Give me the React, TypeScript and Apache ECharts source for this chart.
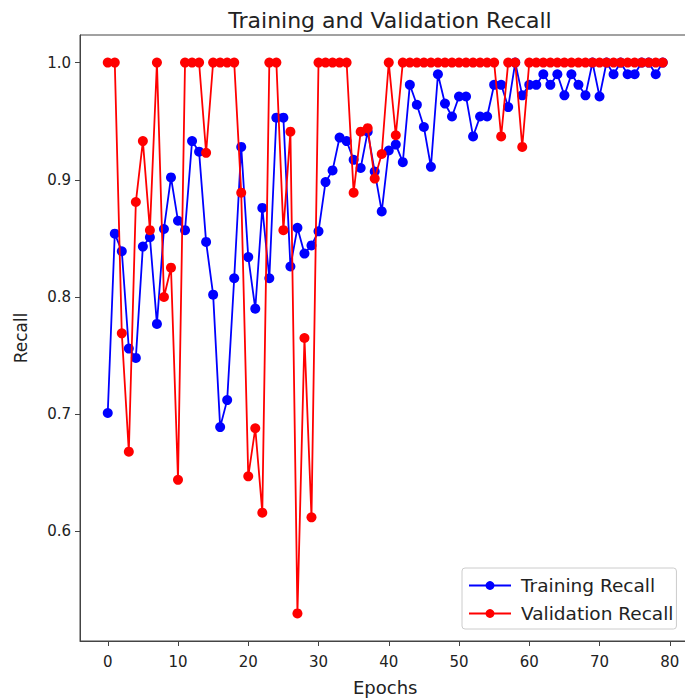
import React, { useEffect, useRef } from "react";
import * as echarts from "echarts";

const trainingRecall = [
  0.701, 0.854, 0.839, 0.756, 0.748, 0.843, 0.851, 0.777, 0.858, 0.902,
  0.865, 0.857, 0.933, 0.924, 0.847, 0.802, 0.689, 0.712, 0.816, 0.928,
  0.834, 0.79, 0.876, 0.816, 0.953, 0.953, 0.826, 0.859, 0.837, 0.844,
  0.856, 0.898, 0.908, 0.936, 0.933, 0.917, 0.91, 0.941, 0.907, 0.873,
  0.925, 0.93, 0.915, 0.981, 0.964, 0.945, 0.911, 0.99, 0.965, 0.954,
  0.971, 0.971, 0.937, 0.954, 0.954, 0.981, 0.981, 0.962, 1.0, 0.972,
  0.981, 0.981, 0.99, 0.981, 0.99, 0.972, 0.99, 0.981, 0.972, 1.0,
  0.971, 1.0, 0.99, 1.0, 0.99, 0.99, 1.0, 1.0, 0.99, 1.0,
];

const validationRecall = [
  1.0, 1.0, 0.769, 0.668, 0.881, 0.933, 0.857, 1.0, 0.8, 0.825,
  0.644, 1.0, 1.0, 1.0, 0.923, 1.0, 1.0, 1.0, 1.0, 0.889,
  0.647, 0.688, 0.616, 1.0, 1.0, 0.857, 0.941, 0.53, 0.765, 0.612,
  1.0, 1.0, 1.0, 1.0, 1.0, 0.889, 0.941, 0.944, 0.901, 0.922,
  1.0, 0.938, 1.0, 1.0, 1.0, 1.0, 1.0, 1.0, 1.0, 1.0,
  1.0, 1.0, 1.0, 1.0, 1.0, 1.0, 0.937, 1.0, 1.0, 0.928,
  1.0, 1.0, 1.0, 1.0, 1.0, 1.0, 1.0, 1.0, 1.0, 1.0,
  1.0, 1.0, 1.0, 1.0, 1.0, 1.0, 1.0, 1.0, 1.0, 1.0,
];

const xTicks = [0, 10, 20, 30, 40, 50, 60, 70, 80];
const yTicks = [0.6, 0.7, 0.8, 0.9, 1.0];

const FONT = "DejaVu Sans";

export default function App() {
  const ref = useRef<HTMLDivElement>(null);
  useEffect(() => {
    if (!ref.current) return;
    const chart = echarts.init(ref.current, undefined, { renderer: "svg" });
    const toPairs = (arr: number[]) => arr.map((v, i) => [i, v]);
    chart.setOption({
      animation: false,
      backgroundColor: "#ffffff",
      title: {
        text: "Training and Validation Recall",
        left: 385,
        textAlign: "center",
        top: 4,
        textStyle: { fontFamily: FONT, fontSize: 22, fontWeight: "normal", color: "#222" },
      },
      grid: {
        left: 80,
        top: 35,
        width: 610.5,
        height: 606,
        outerBoundsMode: "none",
        containLabel: false,
        show: true,
        borderColor: "#444",
        borderWidth: 1,
        backgroundColor: "transparent",
      },
      legend: {
        orient: "vertical",
        left: 462,
        top: 568,
        itemWidth: 42,
        itemHeight: 11,
        itemGap: 9,
        padding: [8, 3, 6, 6],
        borderColor: "#cccccc",
        borderWidth: 1,
        borderRadius: 3,
        backgroundColor: "#ffffff",
        textStyle: { fontFamily: FONT, fontSize: 18.5, color: "#222", padding: [0, 0, 0, 5] },
        data: ["Training Recall", "Validation Recall"],
      },
      xAxis: {
        type: "value",
        min: -3.95,
        max: 82.95,
        name: "Epochs",
        nameLocation: "middle",
        nameGap: 37,
        nameTextStyle: { fontFamily: FONT, fontSize: 18, color: "#222" },
        splitLine: { show: false },
        axisLine: { show: true, onZero: false, lineStyle: { color: "#444" } },
        axisTick: { show: true, customValues: xTicks, length: 5, lineStyle: { color: "#444" } },
        axisLabel: {
          customValues: xTicks,
          fontFamily: FONT,
          fontSize: 15,
          color: "#222",
          margin: 13,
        },
      },
      yAxis: {
        type: "value",
        min: 0.5065,
        max: 1.0235,
        name: "Recall",
        nameLocation: "middle",
        nameGap: 51,
        nameRotate: 90,
        nameTextStyle: { fontFamily: FONT, fontSize: 17, color: "#222" },
        splitLine: { show: false },
        axisLine: { show: true, onZero: false, lineStyle: { color: "#444" } },
        axisTick: { show: true, customValues: yTicks, length: 5, lineStyle: { color: "#444" } },
        axisLabel: {
          customValues: yTicks,
          formatter: (v: number) => v.toFixed(1),
          fontFamily: FONT,
          fontSize: 15,
          color: "#222",
          margin: 9,
        },
      },
      series: [
        {
          name: "Training Recall",
          type: "line",
          data: toPairs(trainingRecall),
          symbol: "circle",
          symbolSize: 10,
          itemStyle: { color: "#0000ff" },
          lineStyle: { color: "#0000ff", width: 1.8 },
          z: 2,
        },
        {
          name: "Validation Recall",
          type: "line",
          data: toPairs(validationRecall),
          symbol: "circle",
          symbolSize: 10,
          itemStyle: { color: "#ff0000" },
          lineStyle: { color: "#ff0000", width: 1.8 },
          z: 3,
        },
      ],
    });
    return () => chart.dispose();
  }, []);
  return (
    <div
      ref={ref}
      style={{ position: "fixed", left: 0, top: 0, width: 685, height: 698, background: "#fff" }}
    />
  );
}
